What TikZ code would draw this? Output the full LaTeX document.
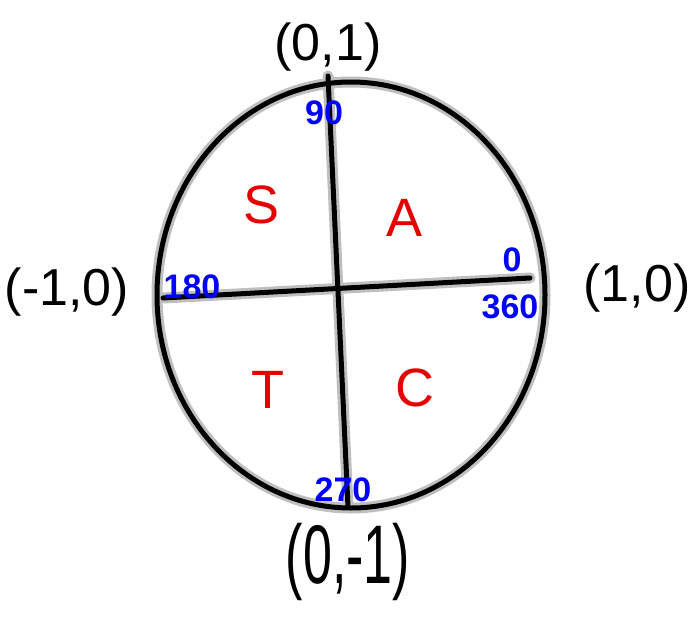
\documentclass[tikz,border=0pt]{standalone}
\usepackage{fontspec}
\setmainfont{Liberation Sans}
\begin{document}
\begin{tikzpicture}[x=1pt,y=-1pt,
  halo/.style={draw=gray!50,line width=11pt,line cap=round,line join=round},
  ink/.style={draw=black,line width=5pt,line cap=round,line join=round},
  coord/.style={font=\fontsize{52}{52}\selectfont,text=black,inner sep=0pt},
  deg/.style={font=\bfseries\fontsize{34}{34}\selectfont,text=blue,inner sep=0pt},
  quad/.style={font=\fontsize{54}{54}\selectfont,text=red!90!black,inner sep=0pt}]
\useasboundingbox (0,0) rectangle (700,618);
% axis end points
\coordinate (top) at (328,76);
\coordinate (bot) at (348,507);
\coordinate (lft) at (163,298);
\coordinate (rgt) at (530,278);
% circle
\draw[halo] (351,295) ellipse [x radius=194, y radius=213];
\draw[halo] (top) -- (bot);
\draw[halo] (lft) -- (rgt);
\draw[ink] (351,295) ellipse [x radius=194, y radius=213];
\draw[ink] (top) -- (bot);
\draw[ink] (lft) -- (rgt);
% coordinates
\node[coord] (n01) at (328,47) {(0,1)};
\node[coord] (nm10) at (67,292) {(-1,0)};
\node[coord] (n10) at (637,288) {(1,0)};
\node[coord,yscale=1.6] (n0m1) at (348,562) {(0,-1)};
% degrees
\node[deg] (d90) at (324,113) {90};
\node[deg] (d180) at (192,287) {180};
\node[deg] (d0) at (512,260) {0};
\node[deg] (d360) at (510,307) {360};
\node[deg] (d270) at (343,490) {270};
% quadrants
\node[quad] (qS) at (262,205) {S};
\node[quad] (qA) at (405,218) {A};
\node[quad] (qT) at (268,390) {T};
\node[quad] (qC) at (415,388) {C};
\end{tikzpicture}
\end{document}
